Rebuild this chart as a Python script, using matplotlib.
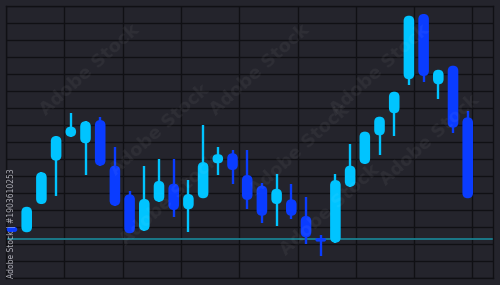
import numpy as np
import matplotlib
matplotlib.use("Agg")
from matplotlib import pyplot as plt
from matplotlib.patches import FancyBboxPatch

# candle values (grid step = 10)
opens = [30.0, 26.9, 43.5, 69.0, 83.1, 79.2, 92.9, 66.1, 49.2, 27.8, 44.9, 55.5, 40.4, 46.9, 67.5, 73.4,
         60.6, 54.3, 43.5, 46.3, 36.5, 23.5, 20.8, 53.7, 67.1, 83.9, 96.9, 116.9, 155.3, 113.9, 124.9, 94.5]
closes = [27.1, 41.9, 62.2, 83.5, 89.0, 92.2, 66.1, 42.5, 26.3, 46.5, 57.1, 40.0, 49.4, 68.2, 72.8, 63.5,
          45.9, 36.6, 52.5, 36.6, 23.9, 21.4, 57.6, 66.1, 86.1, 94.9, 109.6, 154.3, 118.8, 122.5, 88.4, 46.9]
highs = [30.0, 41.9, 62.2, 83.5, 97.2, 92.2, 94.9, 76.9, 51.4, 65.9, 69.8, 69.8, 57.6, 90.0, 76.9, 75.3,
         75.3, 56.1, 61.0, 55.1, 47.8, 25.1, 61.0, 78.6, 86.1, 94.9, 109.6, 154.3, 155.3, 122.5, 124.9, 98.2]
lows = [27.1, 26.9, 43.5, 48.2, 83.1, 60.8, 66.1, 42.5, 26.3, 27.8, 44.9, 36.1, 27.2, 46.9, 60.6, 55.1,
        40.8, 32.2, 30.6, 34.5, 19.8, 12.9, 20.8, 53.7, 67.1, 72.4, 83.5, 113.7, 115.5, 105.1, 85.5, 46.9]
support = 23.0

up_col = '#00c4ff'
down_col = '#0a3cff'
bg = '#24242c'
grid_col = '#101014'

fig = plt.figure(figsize=(5, 2.85), dpi=100, facecolor=bg)
ax = fig.add_axes([6 / 500, 7 / 285, 487 / 500, 272 / 285], facecolor=bg)

xmin, xmax = -0.408, 32.72
ymin, ymax = 0, 160
ax.set_xlim(xmin, xmax)
ax.set_ylim(ymin, ymax)

# pixel scales, to keep the bodies pill-shaped
px_x = 487 / (xmax - xmin)
px_y = 272 / (ymax - ymin)
aspect = px_x / px_y

w = 0.72
for i, (o, c, h, l) in enumerate(zip(opens, closes, highs, lows)):
    col = up_col if c >= o else down_col
    ax.plot([i, i], [l, h], color=col, lw=1.7, solid_capstyle='butt', zorder=3)
    bot, top = min(o, c), max(o, c)
    r = min(w * px_x, (top - bot) * px_y) / 2 / px_x
    box = FancyBboxPatch((i - w / 2, bot), w, top - bot,
                         boxstyle='round,pad=0,rounding_size=%f' % r,
                         mutation_aspect=aspect, fc=col, ec='none', zorder=4)
    ax.add_patch(box)

ax.axhline(support, color='#1a7f90', lw=1.3, zorder=2)

# grid
ax.set_yticks(np.arange(ymin, ymax + 1, 10))
ax.set_xticks(xmin + np.arange(0, 9) * 58.3 / px_x)
ax.grid(True, color=grid_col, lw=1.0, zorder=1)
ax.tick_params(length=0, labelleft=False, labelbottom=False)
for s in ax.spines.values():
    s.set_color(grid_col)
    s.set_linewidth(1.0)

# stock watermark
fig.text(12 / 500, 1 - 223 / 285, 'Adobe Stock | #1903610253', rotation=90, ha='center', va='center',
         fontsize=5.5, color='#d0d0d8', alpha=0.8)
for (x, y) in [(90, 70), (160, 130), (260, 70), (380, 70), (300, 150), (430, 140), (330, 210), (170, 200)]:
    fig.text(x / 500, 1 - y / 285, 'Adobe Stock', rotation=42, ha='center', va='center',
             fontsize=13, fontweight='bold', color='white', alpha=0.05)

fig.savefig('out.png', dpi=100, facecolor=bg)
